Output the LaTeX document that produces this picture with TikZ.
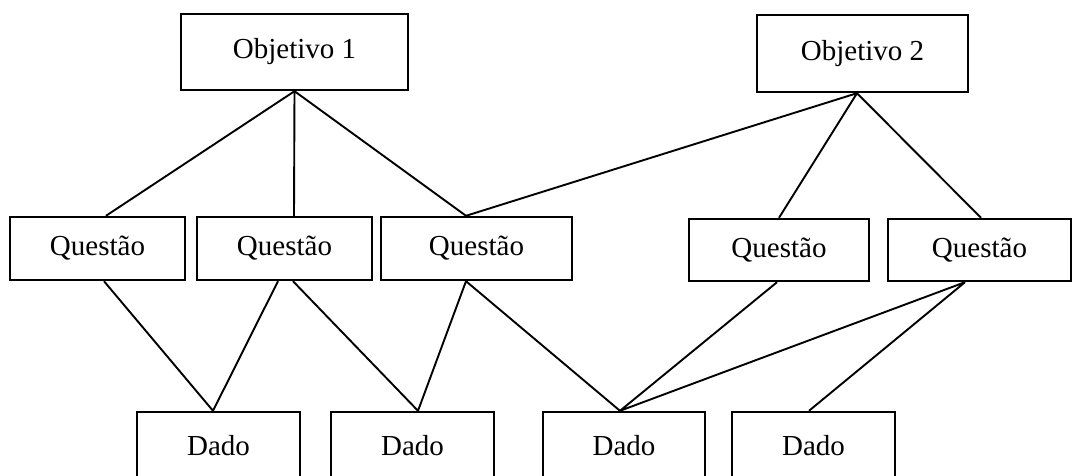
\documentclass[tikz,border=0pt]{standalone}
\usepackage{fontspec}
\setmainfont{Liberation Serif}

\begin{document}
\begin{tikzpicture}[x=1pt,y=-1pt,
  box/.style={draw,line width=2.4pt,inner sep=0pt,font=\fontsize{29}{34}\selectfont},
  link/.style={line width=1.9pt}]
  \useasboundingbox (0,0) rectangle (1072,476);
  \clip (0,0) rectangle (1072,476);
  \node[box,minimum width=227pt,minimum height=76pt] (o1) at (294.5,52) {Objetivo 1};
  \node[box,minimum width=211pt,minimum height=77pt] (o2) at (862.5,53.5) {Objetivo 2};
  \node[box,minimum width=175pt,minimum height=63pt] (q1) at (97.5,248.5) {Questão};
  \node[box,minimum width=175pt,minimum height=63pt] (q2) at (284.5,248.5) {Questão};
  \node[box,minimum width=191pt,minimum height=63pt] (q3) at (476.5,248.5) {Questão};
  \node[box,minimum width=180pt,minimum height=62pt] (q4) at (779,250) {Questão};
  \node[box,minimum width=183pt,minimum height=62pt] (q5) at (979.5,250) {Questão};
  \node[box,minimum width=163pt,minimum height=68pt] (d1) at (218.5,446) {Dado};
  \node[box,minimum width=163pt,minimum height=68pt] (d2) at (412.5,446) {Dado};
  \node[box,minimum width=162pt,minimum height=68pt] (d3) at (624,446) {Dado};
  \node[box,minimum width=163pt,minimum height=68pt] (d4) at (813.5,446) {Dado};
  \draw[link] (o1.south) -- ([xshift=8.5pt]q1.north)
    (o1.south) -- ([xshift=9.5pt]q2.north)
    (o1.south) -- ([xshift=-10.5pt]q3.north);
  \draw[link] ([xshift=-5.5pt]o2.south) -- ([xshift=-10.5pt]q3.north)
    ([xshift=-5.5pt]o2.south) -- (q4.north)
    ([xshift=-5.5pt]o2.south) -- ([xshift=1.5pt]q5.north);
  \draw[link] ([xshift=6.5pt]q1.south) -- ([xshift=-5.5pt]d1.north)
    ([xshift=-6.5pt]q2.south) -- ([xshift=-5.5pt]d1.north)
    ([xshift=8.5pt]q2.south) -- ([xshift=5.5pt]d2.north)
    ([xshift=-10.5pt]q3.south) -- ([xshift=5.5pt]d2.north)
    ([xshift=-10.5pt]q3.south) -- ([xshift=-4pt]d3.north)
    ([xshift=-2pt]q4.south) -- ([xshift=-4pt]d3.north)
    ([xshift=-14.5pt]q5.south) -- ([xshift=-4pt]d3.north)
    ([xshift=-14.5pt]q5.south) -- ([xshift=-4.5pt]d4.north);
\end{tikzpicture}
\end{document}
